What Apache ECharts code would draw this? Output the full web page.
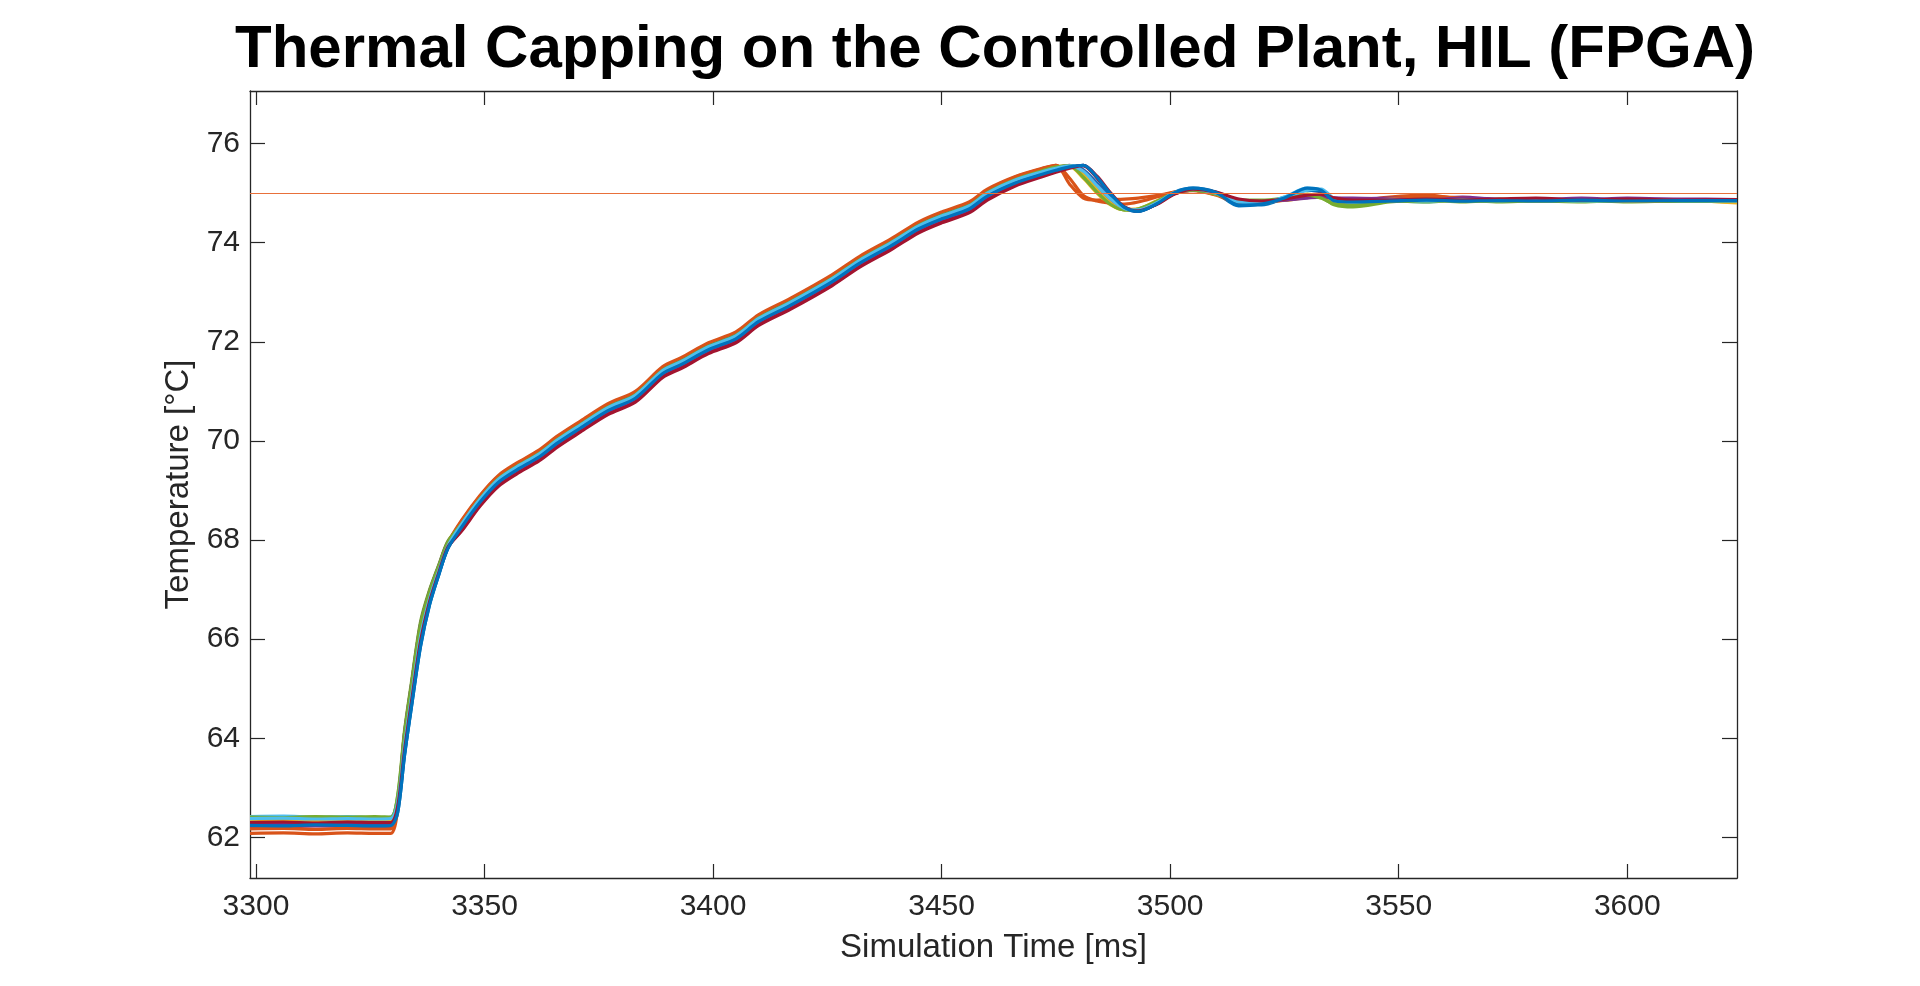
<!DOCTYPE html>
<html>
<head>
<meta charset="utf-8">
<script src="https://cdn.jsdelivr.net/npm/echarts@6/dist/echarts.min.js"></script>
<style>
html,body{margin:0;padding:0;background:#fff;}
#chart{width:1920px;height:986px;}
</style>
</head>
<body>
<div id="chart"></div>
<script>
// ---- data ----
const chartTitle = 'Thermal Capping on the Controlled Plant, HIL (FPGA)';
const xAxisTitle = 'Simulation Time [ms]';
const yAxisTitle = 'Temperature [°C]';
const xTicks = [3300, 3350, 3400, 3450, 3500, 3550, 3600];
const yTicks = [62, 64, 66, 68, 70, 72, 74, 76];
const capTemperature = 75;

const timeMs = [3298.7, 3306, 3313, 3320, 3326, 3329.5, 3331, 3332.5, 3334, 3336, 3338, 3340, 3342, 3345, 3349, 3353, 3357, 3362, 3366, 3371, 3377, 3383, 3389, 3393, 3399, 3405, 3410, 3417, 3426, 3432, 3439, 3445, 3450, 3456, 3460, 3466, 3472, 3475, 3478, 3481, 3484, 3487, 3490, 3493, 3497, 3501, 3505, 3510, 3515, 3520, 3525, 3530, 3533, 3536, 3540, 3548, 3556, 3564, 3572, 3580, 3590, 3600, 3612, 3624];

const run01 = [62.25, 62.24, 62.26, 62.25, 62.24, 62.26, 62.50, 63.65, 64.62, 65.85, 66.70, 67.30, 67.83, 68.27, 68.76, 69.17, 69.43, 69.69, 69.96, 70.27, 70.62, 70.87, 71.36, 71.55, 71.85, 72.07, 72.41, 72.75, 73.22, 73.58, 73.95, 74.29, 74.49, 74.69, 74.94, 75.20, 75.38, 75.46, 75.53, 75.56, 75.32, 74.98, 74.70, 74.63, 74.78, 75.00, 75.09, 75.00, 74.74, 74.78, 74.90, 75.08, 75.04, 74.86, 74.82, 74.84, 74.86, 74.85, 74.84, 74.86, 74.84, 74.85, 74.84, 74.86];
const run02 = [62.08, 62.09, 62.07, 62.09, 62.08, 62.08, 62.55, 63.85, 64.85, 66.08, 66.85, 67.42, 67.93, 68.38, 68.88, 69.28, 69.53, 69.80, 70.08, 70.38, 70.73, 70.98, 71.48, 71.66, 71.96, 72.18, 72.53, 72.86, 73.33, 73.70, 74.06, 74.40, 74.60, 74.80, 75.06, 75.32, 75.49, 75.56, 75.18, 74.90, 74.86, 74.87, 74.88, 74.90, 74.95, 75.02, 75.06, 74.98, 74.82, 74.80, 74.86, 74.96, 74.97, 74.88, 74.84, 74.92, 74.96, 74.88, 74.86, 74.88, 74.86, 74.87, 74.86, 74.85];
const run03 = [62.40, 62.39, 62.41, 62.40, 62.39, 62.40, 62.78, 63.95, 64.92, 66.15, 66.88, 67.42, 67.92, 68.35, 68.85, 69.25, 69.50, 69.77, 70.05, 70.35, 70.70, 70.95, 71.45, 71.63, 71.93, 72.15, 72.50, 72.83, 73.30, 73.67, 74.03, 74.37, 74.57, 74.77, 75.03, 75.28, 75.46, 75.54, 75.54, 75.30, 75.00, 74.76, 74.66, 74.68, 74.84, 75.00, 75.06, 74.97, 74.86, 74.84, 74.85, 74.92, 74.96, 74.84, 74.80, 74.86, 74.90, 74.84, 74.88, 74.86, 74.84, 74.83, 74.85, 74.82];
const run04 = [62.22, 62.21, 62.23, 62.22, 62.20, 62.22, 62.72, 64.05, 65.02, 66.25, 66.94, 67.46, 67.95, 68.32, 68.82, 69.22, 69.47, 69.74, 70.02, 70.32, 70.67, 70.92, 71.42, 71.60, 71.90, 72.12, 72.47, 72.80, 73.27, 73.64, 74.00, 74.34, 74.54, 74.74, 75.00, 75.25, 75.43, 75.51, 75.56, 75.40, 75.12, 74.85, 74.68, 74.66, 74.80, 74.99, 75.06, 74.99, 74.86, 74.84, 74.86, 74.92, 74.94, 74.90, 74.88, 74.90, 74.88, 74.92, 74.87, 74.89, 74.86, 74.90, 74.87, 74.86];
const run05 = [62.38, 62.37, 62.38, 62.40, 62.39, 62.38, 62.85, 64.15, 65.12, 66.35, 67.00, 67.50, 67.98, 68.31, 68.80, 69.20, 69.46, 69.72, 70.01, 70.30, 70.66, 70.90, 71.41, 71.58, 71.89, 72.10, 72.46, 72.78, 73.26, 73.62, 73.98, 74.32, 74.53, 74.72, 74.98, 75.26, 75.44, 75.52, 75.55, 75.34, 75.04, 74.78, 74.66, 74.67, 74.82, 75.00, 75.07, 74.98, 74.84, 74.82, 74.90, 74.98, 74.92, 74.76, 74.72, 74.82, 74.86, 74.82, 74.85, 74.83, 74.86, 74.82, 74.84, 74.82];
const run06 = [62.42, 62.43, 62.41, 62.42, 62.40, 62.41, 62.78, 63.92, 64.88, 66.10, 66.85, 67.40, 67.90, 68.30, 68.79, 69.21, 69.45, 69.71, 70.00, 70.29, 70.65, 70.91, 71.39, 71.58, 71.87, 72.10, 72.44, 72.79, 73.24, 73.61, 73.97, 74.31, 74.51, 74.71, 74.97, 75.23, 75.41, 75.49, 75.55, 75.46, 75.18, 74.90, 74.70, 74.65, 74.79, 75.00, 75.08, 75.00, 74.80, 74.78, 74.92, 75.10, 75.06, 74.84, 74.80, 74.84, 74.82, 74.86, 74.84, 74.85, 74.87, 74.84, 74.86, 74.85];
const run07 = [62.28, 62.27, 62.29, 62.28, 62.27, 62.28, 62.62, 63.80, 64.77, 66.00, 66.78, 67.34, 67.85, 68.20, 68.70, 69.10, 69.35, 69.62, 69.90, 70.20, 70.55, 70.80, 71.30, 71.48, 71.78, 72.00, 72.35, 72.68, 73.15, 73.52, 73.88, 74.22, 74.42, 74.62, 74.88, 75.16, 75.35, 75.44, 75.52, 75.55, 75.30, 74.96, 74.70, 74.64, 74.78, 74.99, 75.07, 75.01, 74.86, 74.82, 74.88, 74.94, 74.96, 74.88, 74.84, 74.84, 74.86, 74.88, 74.85, 74.86, 74.87, 74.84, 74.86, 74.85];
const run08 = [62.32, 62.33, 62.31, 62.32, 62.33, 62.32, 62.60, 63.70, 64.67, 65.90, 66.73, 67.32, 67.84, 68.34, 68.84, 69.24, 69.49, 69.76, 70.04, 70.34, 70.69, 70.94, 71.44, 71.62, 71.92, 72.14, 72.49, 72.82, 73.29, 73.66, 74.02, 74.36, 74.56, 74.76, 75.02, 75.27, 75.44, 75.50, 75.55, 75.47, 75.20, 74.92, 74.72, 74.64, 74.78, 75.02, 75.10, 75.02, 74.78, 74.76, 74.90, 75.06, 75.02, 74.84, 74.82, 74.84, 74.85, 74.84, 74.86, 74.85, 74.84, 74.86, 74.85, 74.86];
const run09 = [62.17, 62.18, 62.16, 62.18, 62.17, 62.17, 62.60, 63.92, 64.90, 66.12, 66.87, 67.43, 67.94, 68.40, 68.90, 69.30, 69.55, 69.82, 70.10, 70.40, 70.75, 71.00, 71.50, 71.68, 71.98, 72.20, 72.55, 72.88, 73.35, 73.72, 74.08, 74.42, 74.62, 74.82, 75.08, 75.33, 75.50, 75.56, 75.30, 74.95, 74.84, 74.80, 74.78, 74.82, 74.92, 75.02, 75.05, 74.96, 74.80, 74.82, 74.88, 74.94, 74.92, 74.86, 74.84, 74.88, 74.94, 74.90, 74.86, 74.87, 74.85, 74.86, 74.84, 74.85];
const run10 = [62.35, 62.36, 62.34, 62.36, 62.35, 62.35, 62.75, 64.00, 64.97, 66.20, 66.91, 67.44, 67.93, 68.28, 68.78, 69.18, 69.43, 69.70, 69.98, 70.28, 70.63, 70.88, 71.38, 71.56, 71.86, 72.08, 72.43, 72.76, 73.23, 73.60, 73.96, 74.30, 74.50, 74.70, 74.96, 75.24, 75.42, 75.50, 75.55, 75.38, 75.08, 74.82, 74.67, 74.68, 74.82, 75.00, 75.06, 74.98, 74.84, 74.80, 74.88, 74.94, 74.90, 74.82, 74.80, 74.88, 74.84, 74.86, 74.88, 74.84, 74.86, 74.83, 74.86, 74.80];
const run11 = [62.27, 62.26, 62.28, 62.26, 62.27, 62.27, 62.72, 64.10, 65.07, 66.30, 66.97, 67.48, 67.96, 68.25, 68.75, 69.15, 69.40, 69.67, 69.95, 70.25, 70.60, 70.85, 71.35, 71.53, 71.83, 72.05, 72.40, 72.73, 73.20, 73.57, 73.93, 74.27, 74.47, 74.67, 74.93, 75.22, 75.40, 75.48, 75.54, 75.45, 75.16, 74.88, 74.70, 74.66, 74.80, 75.00, 75.06, 74.99, 74.86, 74.84, 74.86, 74.90, 74.92, 74.90, 74.90, 74.88, 74.86, 74.90, 74.88, 74.86, 74.90, 74.86, 74.88, 74.87];
const run12 = [62.41, 62.40, 62.42, 62.41, 62.42, 62.41, 62.82, 64.10, 65.07, 66.30, 66.97, 67.48, 67.96, 68.33, 68.83, 69.23, 69.48, 69.75, 70.03, 70.33, 70.68, 70.93, 71.43, 71.61, 71.91, 72.13, 72.48, 72.81, 73.28, 73.65, 74.01, 74.35, 74.55, 74.75, 75.01, 75.27, 75.45, 75.53, 75.55, 75.32, 75.02, 74.77, 74.66, 74.68, 74.83, 75.01, 75.06, 74.98, 74.86, 74.86, 74.90, 74.96, 74.90, 74.78, 74.76, 74.84, 74.82, 74.86, 74.82, 74.84, 74.82, 74.85, 74.83, 74.84];
const run13 = [62.38, 62.39, 62.37, 62.38, 62.37, 62.38, 62.70, 63.85, 64.82, 66.05, 66.82, 67.38, 67.88, 68.32, 68.82, 69.22, 69.47, 69.74, 70.02, 70.32, 70.67, 70.92, 71.42, 71.60, 71.90, 72.12, 72.47, 72.80, 73.27, 73.64, 74.00, 74.34, 74.54, 74.74, 75.00, 75.26, 75.43, 75.50, 75.55, 75.44, 75.15, 74.88, 74.69, 74.66, 74.80, 75.01, 75.08, 75.00, 74.82, 74.80, 74.92, 75.06, 75.08, 74.88, 74.82, 74.86, 74.84, 74.86, 74.85, 74.87, 74.84, 74.86, 74.85, 74.84];
const run14 = [62.30, 62.31, 62.29, 62.31, 62.30, 62.30, 62.62, 63.75, 64.72, 65.95, 66.76, 67.34, 67.86, 68.18, 68.68, 69.08, 69.33, 69.60, 69.88, 70.18, 70.53, 70.78, 71.28, 71.46, 71.76, 71.98, 72.33, 72.66, 73.13, 73.50, 73.86, 74.20, 74.40, 74.60, 74.86, 75.14, 75.33, 75.42, 75.50, 75.56, 75.34, 75.00, 74.72, 74.64, 74.77, 74.98, 75.08, 75.02, 74.88, 74.84, 74.88, 74.96, 74.98, 74.90, 74.86, 74.86, 74.88, 74.86, 74.88, 74.90, 74.86, 74.88, 74.86, 74.87];
const run15 = [62.24, 62.23, 62.25, 62.24, 62.23, 62.24, 62.50, 63.65, 64.62, 65.85, 66.70, 67.30, 67.83, 68.26, 68.76, 69.16, 69.41, 69.68, 69.96, 70.26, 70.61, 70.86, 71.36, 71.54, 71.84, 72.06, 72.41, 72.74, 73.21, 73.58, 73.94, 74.28, 74.48, 74.68, 74.94, 75.20, 75.38, 75.46, 75.53, 75.56, 75.32, 74.98, 74.71, 74.63, 74.78, 75.01, 75.10, 75.01, 74.76, 74.78, 74.90, 75.10, 75.06, 74.84, 74.82, 74.84, 74.86, 74.84, 74.85, 74.84, 74.86, 74.84, 74.85, 74.85];

const runs = [run01, run02, run03, run04, run05, run06, run07, run08, run09, run10, run11, run12, run13, run14, run15];
const runColors = ['#0072BD', '#D95319', '#EDB120', '#7E2F8E', '#77AC30', '#4DBEEE', '#A2142F'];

// ---- chart ----
const axisColor = '#262626';
const FONT = '"Liberation Sans", Arial, Helvetica, sans-serif';
const xMin = 3298.7, xMax = 3624, yMin = 61.18, yMax = 77.06;

const chart = echarts.init(document.getElementById('chart'), null, {renderer: 'canvas'});

const series = runs.map((r, i) => ({
  type: 'line',
  data: timeMs.map((t, k) => [t, r[k]]),
  showSymbol: false,
  smooth: 0.3,
  lineStyle: {width: 3.2, color: runColors[i % runColors.length]},
  itemStyle: {color: runColors[i % runColors.length]},
  silent: true,
  z: 3
}));
series.unshift({
  type: 'line',
  data: [],
  silent: true,
  z: 2,
  markLine: {
    silent: true,
    symbol: ['none', 'none'],
    label: {show: false},
    lineStyle: {type: 'solid', width: 1.2, color: '#E8703A'},
    data: [{yAxis: capTemperature}]
  }
});

const plainNumber = v => String(v);

const baseX = {
  type: 'value', min: xMin, max: xMax,
  splitLine: {show: false},
  axisLine: {show: true, onZero: false, lineStyle: {color: axisColor, width: 1.3}},
  axisTick: {show: true, inside: true, length: 14, customValues: xTicks, lineStyle: {color: axisColor, width: 1.2}},
};
const baseY = {
  type: 'value', min: yMin, max: yMax,
  splitLine: {show: false},
  axisLine: {show: true, onZero: false, lineStyle: {color: axisColor, width: 1.3}},
  axisTick: {show: true, inside: true, length: 15, customValues: yTicks, lineStyle: {color: axisColor, width: 1.2}},
};

chart.setOption({
  animation: false,
  backgroundColor: '#ffffff',
  title: {
    text: chartTitle,
    left: 995,
    textAlign: 'center',
    top: 20,
    padding: 0,
    textStyle: {fontFamily: FONT, fontWeight: 'bold', fontSize: 60, color: '#000000'}
  },
  grid: {left: 250, right: 183, top: 91, bottom: 108, containLabel: false},
  xAxis: [
    Object.assign({}, baseX, {
      position: 'bottom',
      name: xAxisTitle, nameLocation: 'middle', nameGap: 53,
      nameTextStyle: {fontFamily: FONT, fontSize: 33, color: axisColor},
      axisLabel: {show: true, customValues: xTicks, formatter: plainNumber, margin: 14, fontFamily: FONT, fontSize: 30, color: axisColor}
    }),
    Object.assign({}, baseX, {position: 'top', axisLabel: {show: false}})
  ],
  yAxis: [
    Object.assign({}, baseY, {
      position: 'left',
      name: yAxisTitle, nameLocation: 'middle', nameGap: 43, nameRotate: 90,
      nameTextStyle: {fontFamily: FONT, fontSize: 33, color: axisColor},
      axisLabel: {show: true, customValues: yTicks, formatter: plainNumber, margin: 10, fontFamily: FONT, fontSize: 30, color: axisColor}
    }),
    Object.assign({}, baseY, {position: 'right', axisLabel: {show: false}})
  ],
  series: series
});
</script>
</body>
</html>
